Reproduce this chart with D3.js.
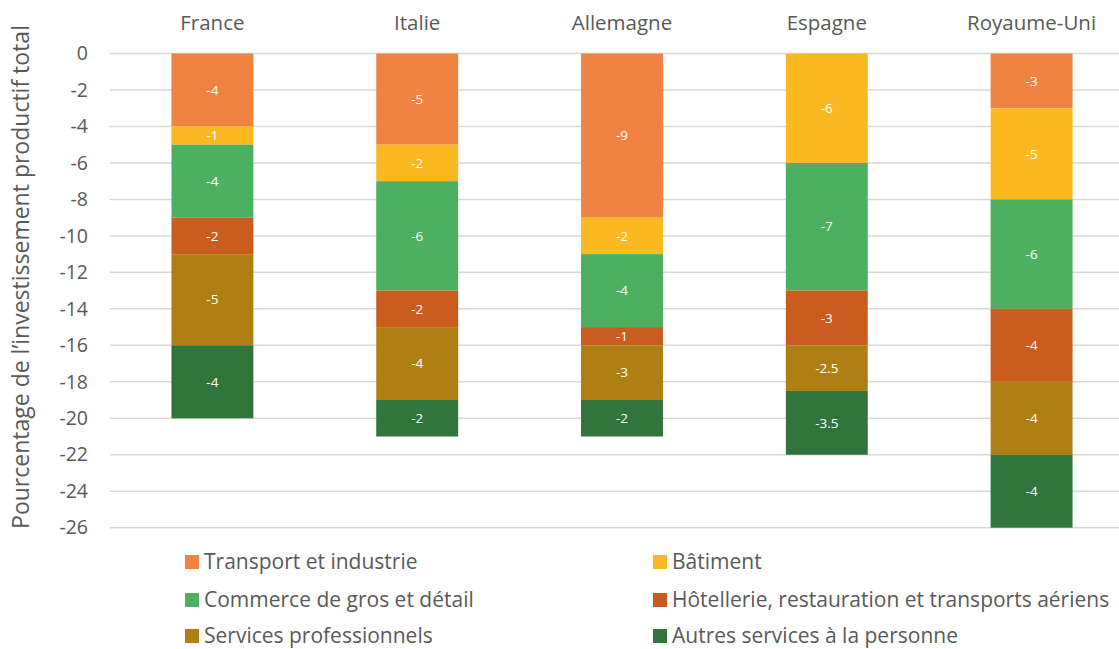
<!DOCTYPE html>
<html>
<head>
<meta charset="utf-8">
<script src="https://cdn.jsdelivr.net/npm/d3@7"></script>
<style>
  html, body { margin: 0; padding: 0; background: #fff; }
  svg { display: block; }
  text { font-family: "Open Sans", Lato, sans-serif; }
</style>
</head>
<body>
<svg id="chart" width="1119" height="649"></svg>
<script>
// Countries along the top
const countries = ["France", "Italie", "Allemagne", "Espagne", "Royaume-Uni"];

// Sectors, stacked from the top down
const sectors = [
  "Transport et industrie",
  "Bâtiment",
  "Commerce de gros et détail",
  "Hôtellerie, restauration et transports aériens",
  "Services professionnels",
  "Autres services à la personne"
];
const sectorColors = ["#F08242", "#FBB921", "#4DAF62", "#C85D1F", "#B07F14", "#31743C"];

// Contribution of each sector, per country (same order as countries)
const transportIndustrie = [-4, -5, -9, 0, -3];
const batiment           = [-1, -2, -2, -6, -5];
const commerce           = [-4, -6, -4, -7, -6];
const hotellerie         = [-2, -2, -1, -3, -4];
const servicesPro        = [-5, -4, -3, -2.5, -4];
const autresServices     = [-4, -2, -2, -3.5, -4];

const yTicks = [0, -2, -4, -6, -8, -10, -12, -14, -16, -18, -20, -22, -24, -26];
const yTitle = "Pourcentage de l\u2019investissement productif total";

const series = [transportIndustrie, batiment, commerce, hotellerie, servicesPro, autresServices];

const svg = d3.select("#chart");
const textColor = "#595959";
const font = "'Open Sans', Lato, sans-serif";

const x = d3.scaleBand()
  .domain(countries)
  .range([110, 1134])
  .paddingInner(0.6)
  .paddingOuter(0.3);

const y = d3.scaleLinear()
  .domain([0, -26])
  .range([53.5, 527.7]);

// Horizontal gridlines
svg.append("g")
  .selectAll("line")
  .data(yTicks)
  .join("line")
  .attr("x1", 110)
  .attr("x2", 1134)
  .attr("y1", d => y(d))
  .attr("y2", d => y(d))
  .attr("stroke", "#D9D9D9")
  .attr("stroke-width", 1.5);

// Y axis tick labels
const yAxis = d3.axisLeft(y).tickValues(yTicks).tickSize(0).tickPadding(0)
  .tickFormat(d => d3.format("d")(d).replace("\u2212", "-"));
const gy = svg.append("g").attr("transform", "translate(88,0)").call(yAxis);
gy.select(".domain").remove();
gy.selectAll("text")
  .attr("fill", textColor)
  .style("font-size", "19.5px")
  .style("font-family", font);

// Y axis title
svg.append("text")
  .attr("transform", "translate(21,277) rotate(-90)")
  .attr("text-anchor", "middle")
  .attr("dy", "0.35em")
  .attr("fill", textColor)
  .style("font-size", "23px")
  .text(yTitle);

// Country labels on top
const xAxis = d3.axisTop(x).tickSize(0).tickPadding(0);
const gx = svg.append("g").attr("transform", "translate(0,30)").call(xAxis);
gx.select(".domain").remove();
gx.selectAll("text")
  .attr("fill", textColor)
  .style("font-size", "20.5px")
  .style("font-family", font);

// Build stacked segments
const segments = [];
countries.forEach((c, ci) => {
  let acc = 0;
  series.forEach((s, si) => {
    const v = s[ci];
    if (v !== 0) {
      segments.push({ country: c, sector: si, value: v, y0: acc, y1: acc + v });
    }
    acc += v;
  });
});

const bars = svg.append("g");
bars.selectAll("rect")
  .data(segments)
  .join("rect")
  .attr("x", d => x(d.country))
  .attr("width", x.bandwidth())
  .attr("y", d => y(d.y0))
  .attr("height", d => y(d.y1) - y(d.y0))
  .attr("fill", d => sectorColors[d.sector]);

bars.selectAll("text")
  .data(segments)
  .join("text")
  .attr("x", d => x(d.country) + x.bandwidth() / 2)
  .attr("y", d => (y(d.y0) + y(d.y1)) / 2)
  .attr("dy", "0.35em")
  .attr("text-anchor", "middle")
  .attr("fill", "#fff")
  .style("font-size", "13.5px")
  .text(d => String(d.value));

// Legend: two columns, three rows
const legendCols = [185, 653];
const legendRows = [562, 600, 636];
const legend = svg.append("g");
sectors.forEach((name, i) => {
  const lx = legendCols[i % 2];
  const ly = legendRows[Math.floor(i / 2)];
  legend.append("rect")
    .attr("x", lx).attr("y", ly - 7)
    .attr("width", 14).attr("height", 14)
    .attr("fill", sectorColors[i]);
  legend.append("text")
    .attr("x", lx + 19).attr("y", ly)
    .attr("dy", "0.35em")
    .attr("fill", textColor)
    .style("font-size", "21px")
    .text(name);
});
</script>
</body>
</html>
